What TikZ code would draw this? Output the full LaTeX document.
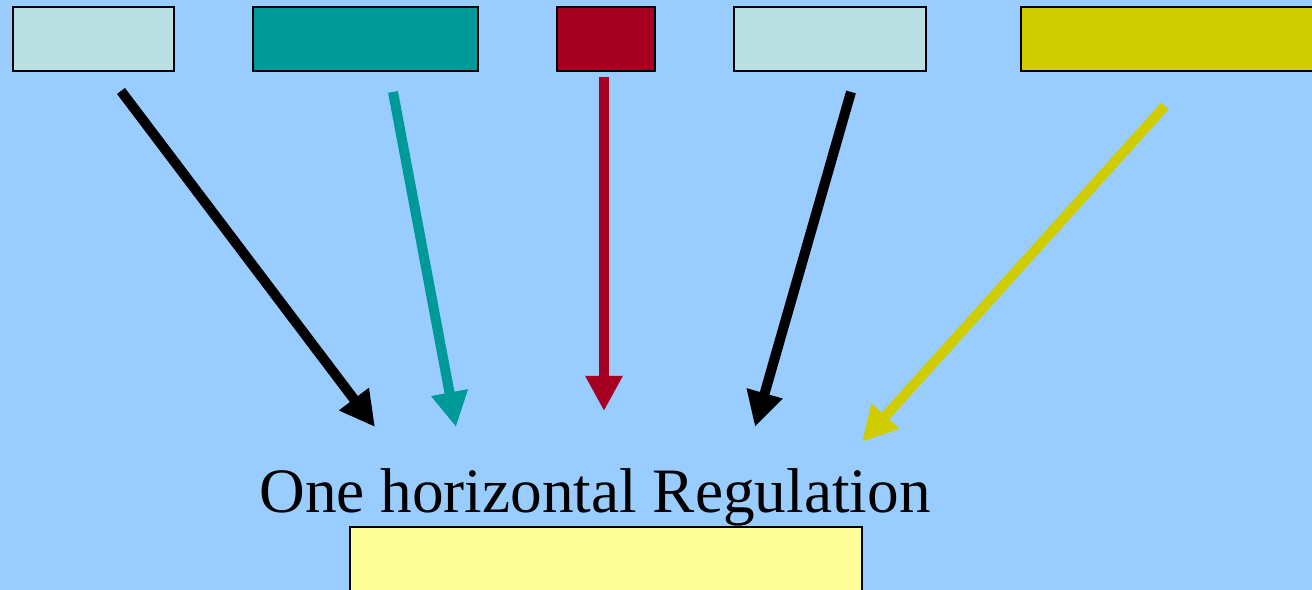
\documentclass[tikz,border=0pt]{standalone}
\usepackage{fontspec}
\setmainfont{Liberation Serif}
\usepackage{tikz}
\usetikzlibrary{arrows.meta}
\usepackage{xcolor}

\definecolor{sky}{HTML}{99CCFF}
\definecolor{paleblue}{HTML}{BAE0E3}
\definecolor{seagreen}{HTML}{009999}
\definecolor{wine}{HTML}{A50021}
\definecolor{olive}{HTML}{CFCC00}
\definecolor{lemon}{HTML}{FFFF99}

\begin{document}
\begin{tikzpicture}
    \fill[sky] (0,0) rectangle (13.12,5.90);
    \clip (0,0) rectangle (13.12,5.90);

    \begin{scope}[every node/.style={rectangle,draw=black,thin,inner sep=0pt,minimum height=0.64cm}]
      \node[fill=paleblue,minimum width=1.61cm] (b1) at (0.935,5.51) {};
      \node[fill=seagreen,minimum width=2.25cm] (b2) at (3.655,5.51) {};
      \node[fill=wine,minimum width=0.98cm] (b3) at (6.06,5.51) {};
      \node[fill=paleblue,minimum width=1.92cm] (b4) at (8.30,5.51) {};
      \node[fill=olive,minimum width=3.09cm] (b5) at (11.755,5.51) {};
      \node[fill=lemon,minimum width=5.12cm,minimum height=0.8cm] (reg) at (6.06,0.23) {};
    \end{scope}

    \node[anchor=base,inner sep=0pt] (title) at (5.95,0.77)
      {\fontsize{18}{22}\selectfont One horizontal Regulation};

    \coordinate (s1) at (1.21,4.99);
    \coordinate (t1) at (3.75,1.63);
    \coordinate (s2) at (3.93,4.98);
    \coordinate (t2) at (4.56,1.63);
    \coordinate (s3) at (6.04,5.13);
    \coordinate (t3) at (6.04,1.79);
    \coordinate (s4) at (8.51,4.98);
    \coordinate (t4) at (7.55,1.63);
    \coordinate (s5) at (11.65,4.84);
    \coordinate (t5) at (8.62,1.48);

    \begin{scope}[>={Triangle[length=0.35cm,width=0.35cm]},
        every edge/.style={draw,line width=0.1cm}]
      \path [->] (s1) edge[draw=black] (t1);
      \path [->] (s2) edge[draw=seagreen] (t2);
      \path [->] (s3) edge[draw=wine] (t3);
      \path [->] (s4) edge[draw=black] (t4);
      \path [->] (s5) edge[draw=olive] (t5);
    \end{scope}
\end{tikzpicture}
\end{document}
